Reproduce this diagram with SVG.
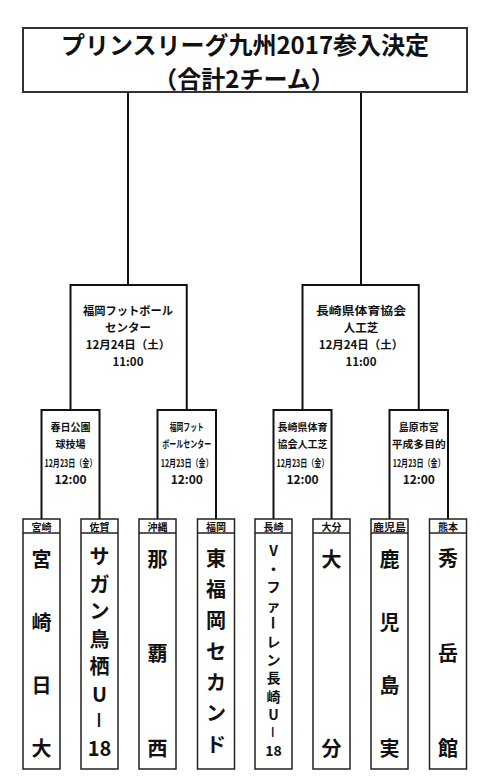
<svg xmlns="http://www.w3.org/2000/svg" width="490" height="781" viewBox="0 0 490 781">
<style>
text{font-family:"Noto Sans CJK JP","Noto Sans CJK SC",sans-serif;font-weight:bold;fill:#111;text-anchor:middle;dominant-baseline:central}
.ln{fill:none;stroke:#111;stroke-width:2}
.box{fill:#fff;stroke:#222;stroke-width:1.5}
.tb{fill:#fff;stroke:#333;stroke-width:2}
.t1{font-size:24px}
.m{font-size:11.5px}
.s{font-size:10px}
.st{font-size:12px}
.h{font-size:10px}
.c{font-size:20px}
.cs{font-size:14px}
</style>
<rect width="490" height="781" fill="#fff"/>
<g id="connectors">
<path class="ln" d="M128,92 V285"/>
<path class="ln" d="M361,92 V285"/>
</g>
<g id="title">
<rect class="tb" x="23" y="28" width="444" height="64"/>
<text class="t1" x="245" y="43">プリンスリーグ九州2017参入決定</text>
<text class="t1" x="244" y="77">（合計2チーム）</text>
</g>
<g id="mid-left">
<path class="ln" d="M70.5,410 V285 H186.75 V410"/>
<text class="m" x="128" y="310" textLength="90" lengthAdjust="spacingAndGlyphs">福岡フットボール</text>
<text class="m" x="128" y="327">センター</text>
<text class="m" x="128" y="344">12月24日（土）</text>
<text class="m" x="128" y="361">11:00</text>
</g>
<g id="mid-right">
<path class="ln" d="M302.5,410 V285 H418.75 V410"/>
<text class="m" x="361" y="310" textLength="90" lengthAdjust="spacingAndGlyphs">長崎県体育協会</text>
<text class="m" x="361" y="327">人工芝</text>
<text class="m" x="361" y="344">12月24日（土）</text>
<text class="m" x="361" y="361">11:00</text>
</g>
<g id="sub1">
<path class="ln" d="M41.5,519 V410 H99.5 V519"/>
<text class="s" x="70.5" y="426">春日公園</text>
<text class="s" x="70.5" y="443">球技場</text>
<text class="s" x="70.5" y="462" textLength="52" lengthAdjust="spacingAndGlyphs">12月23日（金）</text>
<text class="st" x="70.5" y="478">12:00</text>
</g>
<g id="sub2">
<path class="ln" d="M157.5,519 V410 H216 V519"/>
<text class="s" x="186.75" y="426" textLength="34" lengthAdjust="spacingAndGlyphs">福岡フット</text>
<text class="s" x="186.75" y="443" textLength="49" lengthAdjust="spacingAndGlyphs">ボールセンター</text>
<text class="s" x="186.75" y="462" textLength="52" lengthAdjust="spacingAndGlyphs">12月23日（金）</text>
<text class="st" x="186.75" y="478">12:00</text>
</g>
<g id="sub3">
<path class="ln" d="M273.5,519 V410 H331.5 V519"/>
<text class="s" x="302.5" y="426">長崎県体育</text>
<text class="s" x="302.5" y="443">協会人工芝</text>
<text class="s" x="302.5" y="462" textLength="52" lengthAdjust="spacingAndGlyphs">12月23日（金）</text>
<text class="st" x="302.5" y="478">12:00</text>
</g>
<g id="sub4">
<path class="ln" d="M389.5,519 V410 H448 V519"/>
<text class="s" x="418.75" y="426">島原市営</text>
<text class="s" x="418.75" y="443" textLength="54" lengthAdjust="spacingAndGlyphs">平成多目的</text>
<text class="s" x="418.75" y="462" textLength="52" lengthAdjust="spacingAndGlyphs">12月23日（金）</text>
<text class="st" x="418.75" y="478">12:00</text>
</g>
<g id="team1">
<rect class="box" x="23" y="519" width="37" height="250"/>
<path class="box" d="M23,533 H60"/>
<text class="h" x="41.5" y="526">宮崎</text>
<text class="c" x="41.5 41.5 41.5 41.5" y="558 621 684 747">宮崎日大</text>
</g>
<g id="team2">
<rect class="box" x="81" y="519" width="37" height="250"/>
<path class="box" d="M81,533 H118"/>
<text class="h" x="99.5" y="526">佐賀</text>
<text class="c" x="99.5 99.5 99.5 99.5 99.5 99.5" y="555 583 610 638 665 693">サガン鳥栖U</text>
<text class="c" x="99.5" y="720" transform="rotate(90 99.5 720)">－</text>
<text class="c" x="99.5" y="747">18</text>
</g>
<g id="team3">
<rect class="box" x="139" y="519" width="37" height="250"/>
<path class="box" d="M139,533 H176"/>
<text class="h" x="157.5" y="526">沖縄</text>
<text class="c" x="157.5 157.5 157.5" y="558 652.5 747">那覇西</text>
</g>
<g id="team4">
<rect class="box" x="197.5" y="519" width="37" height="250"/>
<path class="box" d="M197.5,533 H234.5"/>
<text class="h" x="216" y="526">福岡</text>
<text class="c" x="216 216 216 216 216 216 216" y="557 588 619 650 681 712 743">東福岡セカンド</text>
</g>
<g id="team5">
<rect class="box" x="255" y="519" width="37" height="250"/>
<path class="box" d="M255,533 H292"/>
<text class="h" x="273.5" y="526">長崎</text>
<text class="cs" x="273.5 273.5 273.5 273.5" y="550 568.2 586.4 604.6">V・ファ</text>
<text class="cs" x="273.5" y="622.8" transform="rotate(90 273.5 622.8)">ー</text>
<text class="cs" x="273.5 273.5 273.5 273.5 273.5" y="641 659.2 677.4 695.6 713.8">レン長崎U</text>
<text class="cs" x="273.5" y="732" transform="rotate(90 273.5 732)">－</text>
<text class="cs" x="273.5" y="750">18</text>
</g>
<g id="team6">
<rect class="box" x="313" y="519" width="37" height="250"/>
<path class="box" d="M313,533 H350"/>
<text class="h" x="331.5" y="526">大分</text>
<text class="c" x="331.5 331.5" y="558 747">大分</text>
</g>
<g id="team7">
<rect class="box" x="371" y="519" width="37" height="250"/>
<path class="box" d="M371,533 H408"/>
<text class="h" x="389.5" y="526" textLength="33" lengthAdjust="spacingAndGlyphs">鹿児島</text>
<text class="c" x="389.5 389.5 389.5 389.5" y="558 621 684 747">鹿児島実</text>
</g>
<g id="team8">
<rect class="box" x="429.5" y="519" width="37" height="250"/>
<path class="box" d="M429.5,533 H466.5"/>
<text class="h" x="448" y="526">熊本</text>
<text class="c" x="448 448 448" y="557 652.5 747">秀岳館</text>
</g>
</svg>
